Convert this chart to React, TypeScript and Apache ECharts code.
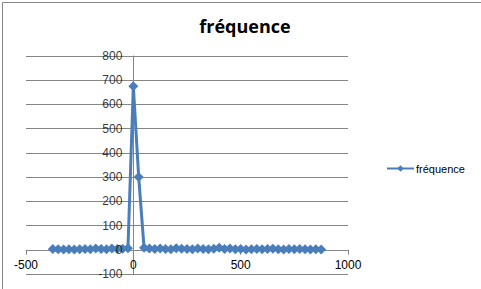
import React, { useEffect, useRef } from "react";
import * as echarts from "echarts";

const xValues = [
  -375, -350, -325, -300, -275, -250, -225, -200, -175, -150, -125, -100, -75, -50, -25,
  0, 25, 50, 75, 100, 125, 150, 175, 200, 225, 250, 275, 300, 325, 350, 375, 400, 425,
  450, 475, 500, 525, 550, 575, 600, 625, 650, 675, 700, 725, 750, 775, 800, 825, 850, 875,
];
const frequence = [
  3, 2, 1, 2, 1, 2, 3, 2, 5, 3, 2, 5, 3, 4, 6,
  675, 300, 8, 5, 3, 5, 3, 2, 6, 4, 3, 2, 5, 3, 2, 4, 8, 3,
  5, 2, 3, 1, 2, 3, 2, 3, 4, 2, 1, 3, 2, 3, 2, 1, 2, 1,
];
const yTickLabels = [-100, 0, 100, 200, 300, 400, 500, 600, 700, 800];
const seriesName = "fréquence";
const titleText = "fréquence";
const xMin = -500;
const xMax = 1000;
const xStep = 500;
const yMin = -100;
const yMax = 800;
const yStep = 100;

export default function App() {
  const ref = useRef<HTMLDivElement>(null);
  useEffect(() => {
    if (!ref.current) return;
    const chart = echarts.init(ref.current, undefined, { renderer: "svg" });
    const data = xValues.map((x, i) => [x, frequence[i]]);
    const labelStyle = {
      fontFamily: "Liberation Sans",
      fontSize: 12,
      color: "#000",
      showMinLabel: true,
      showMaxLabel: true,
      hideOverlap: false,
      formatter: (v: number) => String(v),
    };
    const G = { left: 26, right: 133, top: 56, bottom: 15 };
    const W = 481 - G.left - G.right;
    const H = 289 - G.top - G.bottom;
    const zeroX = G.left + (W * (0 - xMin)) / (xMax - xMin);
    const zeroYFromBottom = G.bottom + (H * (0 - yMin)) / (yMax - yMin);
    const base = { containLabel: false, outerBoundsMode: "none" };
    chart.setOption({
      animation: false,
      backgroundColor: "#ffffff",
      graphic: [
        {
          type: "rect",
          left: 0,
          top: 0,
          shape: { x: 0, y: 0, width: 480, height: 288 },
          style: { fill: "none", stroke: "#868686", lineWidth: 1 },
          silent: true,
          z: 100,
        },
      ],
      title: {
        text: titleText,
        left: 240,
        textAlign: "center",
        top: 12,
        textStyle: {
          fontFamily: "Open Sans",
          fontWeight: "bold",
          fontSize: 18,
          color: "#000",
        },
      },
      legend: {
        left: 381,
        top: 158,
        itemWidth: 27,
        itemHeight: 8,
        itemGap: 2,
        textStyle: { fontFamily: "Liberation Sans", fontSize: 11, color: "#000", padding: [0, 0, 0, -3] },
        data: [seriesName],
      },
      grid: [
        { ...base, ...G },
        { ...base, ...G, left: zeroX },
        { ...base, ...G, bottom: zeroYFromBottom },
      ],
      xAxis: [
        { gridIndex: 0, type: "value", min: xMin, max: xMax, show: false },
        { gridIndex: 1, type: "value", min: 0, max: xMax, show: false },
        {
          gridIndex: 2,
          type: "value",
          min: xMin,
          max: xMax,
          interval: xStep,
          position: "bottom",
          z: 3,
          axisLine: { onZero: false, lineStyle: { color: "#868686", width: 1 } },
          axisTick: { show: true, length: 5, lineStyle: { color: "#868686" } },
          axisLabel: { ...labelStyle, margin: 9 },
          splitLine: { show: false },
        },
      ],
      yAxis: [
        {
          gridIndex: 0,
          type: "value",
          min: yMin,
          max: yMax,
          interval: yStep,
          axisLine: { show: false },
          axisTick: { show: false },
          axisLabel: { show: false },
          splitLine: { show: true, lineStyle: { color: "#868686", width: 1 } },
        },
        {
          gridIndex: 1,
          type: "value",
          min: yMin,
          max: yMax,
          interval: yStep,
          position: "left",
          z: 3,
          axisLine: { show: true, onZero: false, lineStyle: { color: "#868686", width: 1 } },
          axisTick: { show: true, length: 4, lineStyle: { color: "#868686" } },
          axisLabel: { show: false },
          splitLine: { show: false },
        },
        { gridIndex: 2, type: "value", min: 0, max: yMax, show: false },
      ],
      series: [
        {
          name: seriesName,
          type: "line",
          data,
          xAxisIndex: 0,
          yAxisIndex: 0,
          symbol: "diamond",
          symbolSize: 10,
          lineStyle: { color: "#4a7ebb", width: 3 },
          itemStyle: { color: "#4a7ebb" },
        },
        {
          name: "yLabels",
          type: "scatter",
          xAxisIndex: 0,
          yAxisIndex: 0,
          data: yTickLabels.map((v) => [0, v]),
          symbol: "circle",
          symbolSize: 2,
          itemStyle: { color: "rgba(0,0,0,0)" },
          silent: true,
          clip: false,
          z: 10,
          label: {
            show: true,
            position: "left",
            distance: 10,
            fontFamily: "Liberation Sans",
            fontSize: 12,
            color: "#000",
            formatter: (p: any) => String(p.value[1]),
          },
        },
      ],
    });
    return () => chart.dispose();
  }, []);
  return (
    <div
      ref={ref}
      style={{ position: "fixed", left: 0, top: 0, width: 481, height: 289 }}
    />
  );
}
